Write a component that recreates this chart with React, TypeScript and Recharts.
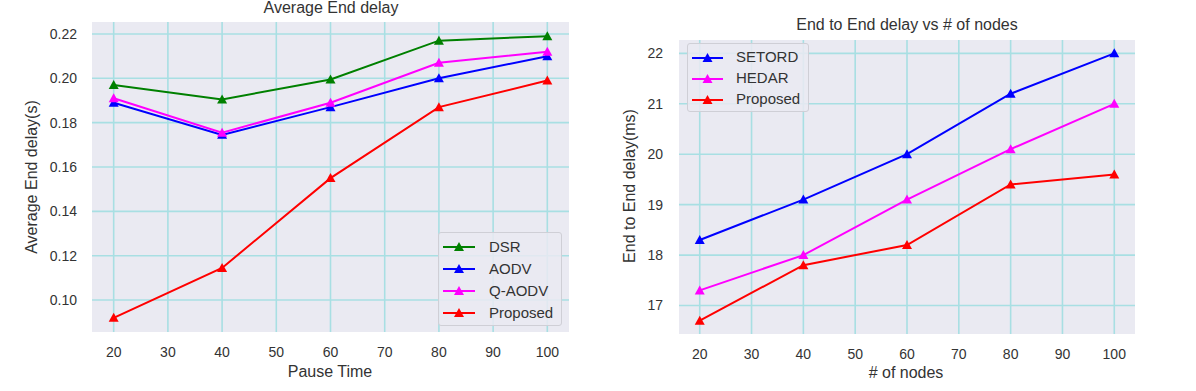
/**
 * Two seaborn-style delay plots side by side:
 * average end delay vs pause time, and end-to-end delay vs node count.
 */
import React from 'react';
import { LineChart, Line, XAxis, YAxis, CartesianGrid, Legend } from 'recharts';

// left panel
const pauseTimes = [20, 40, 60, 80, 100];
const dsrDelay = [0.197, 0.1905, 0.1995, 0.217, 0.219];
const aodvDelay = [0.189, 0.1745, 0.187, 0.2, 0.21];
const qAodvDelay = [0.191, 0.1755, 0.189, 0.207, 0.212];
const proposedDelay = [0.092, 0.1145, 0.155, 0.187, 0.199];
const pauseTicks = [20, 30, 40, 50, 60, 70, 80, 90, 100];
const delayTicks = [0.1, 0.12, 0.14, 0.16, 0.18, 0.2, 0.22];

// right panel
const nodeCounts = [20, 40, 60, 80, 100];
const setordDelay = [18.3, 19.1, 20.0, 21.2, 22.0];
const hedarDelay = [17.3, 18.0, 19.1, 20.1, 21.0];
const proposedNodeDelay = [16.7, 17.8, 18.2, 19.4, 19.6];
const nodeTicks = [20, 30, 40, 50, 60, 70, 80, 90, 100];
const msTicks = [17, 18, 19, 20, 21, 22];

const xDomain: [number, number] = [16, 104];
const delayDomain: [number, number] = [0.0856, 0.2254];
const msDomain: [number, number] = [16.435, 22.265];

interface SeriesDef {
  key: string;
  name: string;
  color: string;
}

const leftSeries: SeriesDef[] = [
  { key: 'dsr', name: 'DSR', color: '#008000' },
  { key: 'aodv', name: 'AODV', color: '#0000ff' },
  { key: 'qaodv', name: 'Q-AODV', color: '#ff00ff' },
  { key: 'proposed', name: 'Proposed', color: '#ff0000' },
];

const rightSeries: SeriesDef[] = [
  { key: 'setord', name: 'SETORD', color: '#0000ff' },
  { key: 'hedar', name: 'HEDAR', color: '#ff00ff' },
  { key: 'proposed', name: 'Proposed', color: '#ff0000' },
];

const leftRows = pauseTimes.map((t, i) => ({
  x: t,
  dsr: dsrDelay[i],
  aodv: aodvDelay[i],
  qaodv: qAodvDelay[i],
  proposed: proposedDelay[i],
}));

const rightRows = nodeCounts.map((n, i) => ({
  x: n,
  setord: setordDelay[i],
  hedar: hedarDelay[i],
  proposed: proposedNodeDelay[i],
}));

const FONT = 'Arial, "Liberation Sans", Helvetica, sans-serif';
const TEXT = '#333333';
const GRID = '#a8dfe3';
const PANEL = '#eaeaf2';

function triangleDot(color: string) {
  return (props: any) => {
    const { cx, cy, index } = props;
    if (cx == null || cy == null) return null;
    return (
      <path
        key={`tri-${index}`}
        d={`M${cx},${cy - 5}L${cx + 5},${cy + 4}L${cx - 5},${cy + 4}Z`}
        fill={color}
      />
    );
  };
}

// grid lines only at the tick values (no frame around the panel)
function hGrid(ticks: number[], domain: [number, number]) {
  return (props: any) => {
    const axis = props.yAxis;
    if (axis && typeof axis.scale === 'function') return ticks.map((t) => axis.scale(t));
    const { top, height } = props.offset;
    return ticks.map((t) => top + ((domain[1] - t) / (domain[1] - domain[0])) * height);
  };
}

function vGrid(ticks: number[], domain: [number, number]) {
  return (props: any) => {
    const axis = props.xAxis;
    if (axis && typeof axis.scale === 'function') return ticks.map((t) => axis.scale(t));
    const { left, width } = props.offset;
    return ticks.map((t) => left + ((t - domain[0]) / (domain[1] - domain[0])) * width);
  };
}

function LegendBox({ items, lineW, gap, rowH }: { items: SeriesDef[]; lineW: number; gap: number; rowH: number }) {
  return (
    <div
      style={{
        background: 'rgba(234,234,242,0.85)',
        border: '1px solid #cfcfd6',
        borderRadius: 3,
        padding: '2px 8px 2px 4px',
        fontFamily: FONT,
        fontSize: 15,
        color: TEXT,
      }}
    >
      {items.map((s) => (
        <div key={s.key} style={{ display: 'flex', alignItems: 'center', height: rowH }}>
          <svg width={lineW} height={12} style={{ marginRight: gap }}>
            <line x1={0} y1={7} x2={lineW} y2={7} stroke={s.color} strokeWidth={2} />
            <path
              d={`M${lineW / 2},2L${lineW / 2 + 5},11L${lineW / 2 - 5},11Z`}
              fill={s.color}
            />
          </svg>
          <span>{s.name}</span>
        </div>
      ))}
    </div>
  );
}

const tickStyle = { fontSize: 14, fill: TEXT, fontFamily: FONT };

function Caption({ x, y, text, rotate = false }: { x: number; y: number; text: string; rotate?: boolean }) {
  return (
    <div
      style={{
        position: 'absolute',
        left: x,
        top: y,
        transform: `translate(-50%, -50%)${rotate ? ' rotate(-90deg)' : ''}`,
        whiteSpace: 'nowrap',
        fontFamily: FONT,
        fontSize: 16,
        color: TEXT,
        lineHeight: 1,
      }}
    >
      {text}
    </div>
  );
}

export default function App() {
  return (
    <div
      style={{
        position: 'absolute',
        left: 0,
        top: 0,
        width: 1196,
        height: 391,
        background: '#ffffff',
        overflow: 'hidden',
      }}
    >
      <div style={{ position: 'absolute', left: 0, top: 0 }}>
        <LineChart
          width={580}
          height={391}
          data={leftRows}
          margin={{ top: 22, right: 11, left: 22, bottom: 0 }}
        >
          <CartesianGrid
            stroke={GRID}
            strokeWidth={1.6}
            fill={PANEL}
            horizontalCoordinatesGenerator={hGrid(delayTicks, delayDomain)}
            verticalCoordinatesGenerator={vGrid(pauseTicks, xDomain)}
          />
          <XAxis
            dataKey="x"
            type="number"
            domain={xDomain}
            ticks={pauseTicks}
            height={59}
            axisLine={false}
            tickLine={false}
            tickSize={6}
            tickMargin={9}
            tick={tickStyle}
          />
          <YAxis
            type="number"
            domain={delayDomain}
            allowDataOverflow
            ticks={delayTicks}
            tickFormatter={(v: number) => v.toFixed(2)}
            width={70}
            axisLine={false}
            tickLine={false}
            tickSize={6}
            tickMargin={9}
            tick={tickStyle}
          />
          {leftSeries.map((s) => (
            <Line
              key={s.key}
              dataKey={s.key}
              name={s.name}
              stroke={s.color}
              strokeWidth={2}
              dot={triangleDot(s.color)}
              activeDot={false}
              isAnimationActive={false}
            />
          ))}
          <Legend
            layout="vertical"
            align="center"
            verticalAlign="middle"
            wrapperStyle={{ left: 438, top: 232, width: 'auto', height: 'auto' }}
            content={() => <LegendBox items={leftSeries} lineW={32} gap={14} rowH={22} />}
          />
        </LineChart>
      </div>

      <div style={{ position: 'absolute', left: 600, top: 0 }}>
        <LineChart
          width={545}
          height={391}
          data={rightRows}
          margin={{ top: 40, right: 10, left: 9, bottom: 0 }}
        >
          <CartesianGrid
            stroke={GRID}
            strokeWidth={1.6}
            fill={PANEL}
            horizontalCoordinatesGenerator={hGrid(msTicks, msDomain)}
            verticalCoordinatesGenerator={vGrid(nodeTicks, xDomain)}
          />
          <XAxis
            dataKey="x"
            type="number"
            domain={xDomain}
            ticks={nodeTicks}
            height={57}
            axisLine={false}
            tickLine={false}
            tickSize={6}
            tickMargin={9}
            tick={tickStyle}
          />
          <YAxis
            type="number"
            domain={msDomain}
            allowDataOverflow
            ticks={msTicks}
            width={70}
            axisLine={false}
            tickLine={false}
            tickSize={6}
            tickMargin={10}
            tick={tickStyle}
          />
          {rightSeries.map((s) => (
            <Line
              key={s.key}
              dataKey={s.key}
              name={s.name}
              stroke={s.color}
              strokeWidth={2}
              dot={triangleDot(s.color)}
              activeDot={false}
              isAnimationActive={false}
            />
          ))}
          <Legend
            layout="vertical"
            align="center"
            verticalAlign="middle"
            wrapperStyle={{ left: 87, top: 43, width: 'auto', height: 'auto' }}
            content={() => <LegendBox items={rightSeries} lineW={31} gap={13} rowH={21} />}
          />
        </LineChart>
      </div>

      <Caption x={331} y={8} text="Average End delay" />
      <Caption x={330} y={372} text="Pause Time" />
      <Caption x={32} y={177} text="Average End delay(s)" rotate />

      <Caption x={907} y={25} text="End to End delay vs # of nodes" />
      <Caption x={906} y={373} text="# of nodes" />
      <Caption x={630} y={186} text="End to End delay(ms)" rotate />
    </div>
  );
}
